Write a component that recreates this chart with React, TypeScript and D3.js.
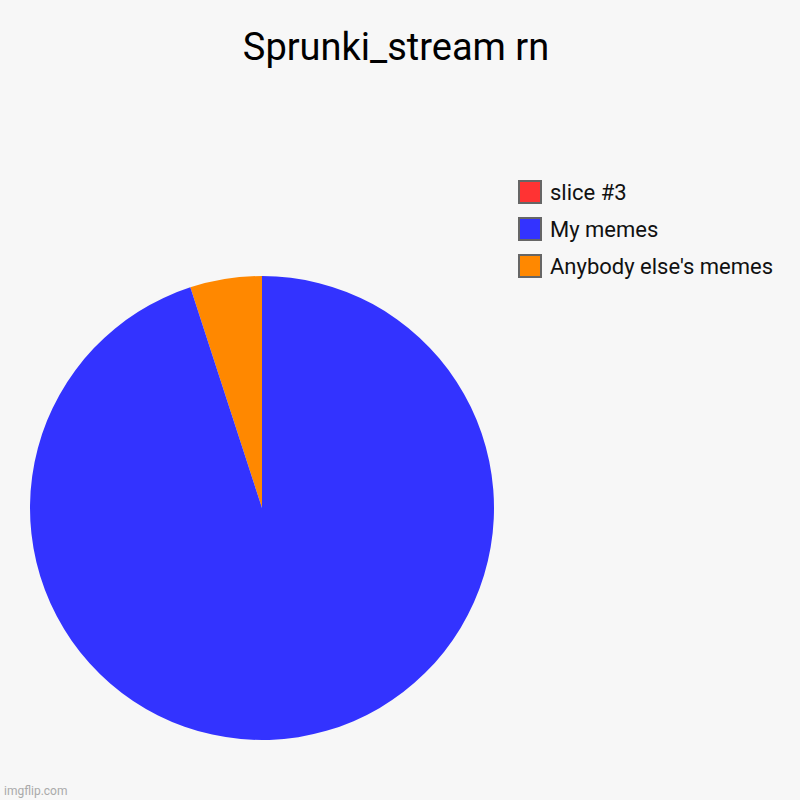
import React from "react";
import * as d3 from "d3";

const labels = ["Anybody else's memes", "My memes", "slice #3"];
const values = [5, 95, 0];
const colors = ["#ff8800", "#3333ff", "#ff3333"];
const title = "Sprunki_stream rn";

export default function App() {
  const W = 800, H = 800;
  const cx = 262, cy = 508, r = 232;
  const pie = d3.pie<number>().sort(null).startAngle(0).endAngle(-2 * Math.PI);
  const arcs = pie(values);
  const arcGen = d3.arc<d3.PieArcDatum<number>>().innerRadius(0).outerRadius(r);
  const legendOrder = [2, 1, 0];
  const legendY = d3.scaleBand<number>().domain(legendOrder).range([174, 285]);
  return (
    <svg width={W} height={H} style={{ position: "absolute", left: 0, top: 0 }}
      fontFamily="Roboto, 'Noto Sans', sans-serif">
      <rect width={W} height={H} fill="#f7f7f7" />
      <text x={396} y={60} textAnchor="middle" fontSize={38} fill="#000">{title}</text>
      <g transform={`translate(${cx},${cy})`}>
        {arcs.map((a, i) =>
          a.value > 0 ? <path key={i} d={arcGen(a) || ""} fill={colors[i]} /> : null
        )}
      </g>
      {legendOrder.map((i) => {
        const y = legendY(i)! + 7;
        return (
          <g key={i}>
            <rect x={519} y={y} width={22} height={22} fill={colors[i]} stroke="#666" strokeWidth={2} />
            <text x={550} y={y + 19} fontSize={22} fill="#111">{labels[i]}</text>
          </g>
        );
      })}
      <text x={4} y={795} fontSize={12} fill="#aaa">imgflip.com</text>
    </svg>
  );
}
